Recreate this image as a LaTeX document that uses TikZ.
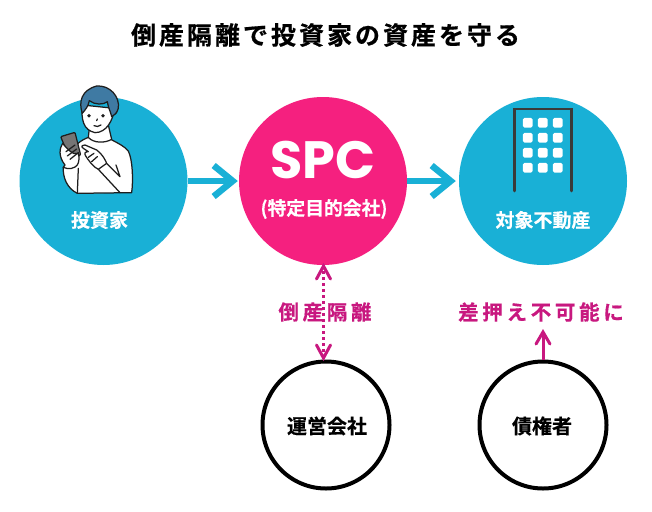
\documentclass[tikz,border=0pt]{standalone}
\usepackage{fontspec}
\setmainfont{Liberation Sans}
\newfontfamily\jpt[LetterSpace=12,FakeBold=0.6]{Noto Sans CJK JP Bold}
\newfontfamily\jpm[LetterSpace=18,FakeBold=0.5]{Noto Sans CJK JP Bold}
\newfontfamily\jpb[FakeBold=0.3]{Noto Sans CJK JP Bold}
\newfontfamily\lat{Poppins}
\usetikzlibrary{arrows.meta}
\definecolor{cy}{HTML}{19B0D6}
\definecolor{pk}{HTML}{F5207F}
\definecolor{mg}{HTML}{C8187F}
\definecolor{hairc}{HTML}{3F7AA3}
\definecolor{ink}{HTML}{1E1E1E}
\definecolor{gr}{HTML}{3A3A3A}
\tikzset{
 bluec/.style={circle,fill=cy,minimum size=168pt,inner sep=0pt},
 pinkc/.style={circle,fill=pk,minimum size=168pt,inner sep=0pt},
 ringc/.style={circle,draw=black,line width=4pt,fill=white,minimum size=127pt,inner sep=0pt},
 flow/.style={draw=cy,line width=6pt,-{Straight Barb[length=19pt,width=31pt,line width=6.5pt]}},
 mag/.style={draw=mg,line width=3pt},
 wlab/.style={text=white,font=\jpb\fontsize{19}{22}\selectfont,inner sep=0pt},
 klab/.style={text=black,font=\jpb\fontsize{20}{22}\selectfont,inner sep=0pt},
 mlab/.style={text=mg,font=\jpm\fontsize{20.5}{23}\selectfont,inner sep=0pt},
 lnk/.style={draw=ink,line width=1.25pt,line join=round,line cap=round},
 win/.style={fill=white,rounded corners=1.5pt}
}
\begin{document}
\begin{tikzpicture}[x=1pt,y=-1pt]
\useasboundingbox (0,0) rectangle (652,511);
\fill[white] (0,0) rectangle (652,511);
\node[inner sep=0pt,font=\jpt\fontsize{25}{28}\selectfont] (title) at (325.5,35) {倒産隔離で投資家の資産を守る};
\node[bluec] (inv) at (103.5,181) {};
\node[pinkc] (spc) at (323,181) {};
\node[bluec] (prop) at (543,181) {};
\node[ringc] (op) at (326,425) {};
\node[ringc] (cred) at (543,425) {};
% person
\begin{scope}[shift={(20,80)},x=0.3333pt,y=-0.3333pt]
\draw[lnk,fill=white] (205,172) .. controls (185,180) and (172,190) .. (165,200) -- (135,255) -- (130,262) .. controls (128,290) and (140,325) .. (172,340) -- (335,338) .. controls (340,300) and (338,240) .. (325,213) .. controls (315,200) and (295,190) .. (272,178) -- cycle;
\draw[lnk,fill=white] (208,145) -- (205,172) .. controls (220,190) and (255,190) .. (275,178) -- (265,135) -- cycle;
\draw[lnk,fill=white] (187,75) .. controls (183,120) and (190,150) .. (225,158) .. controls (260,158) and (280,120) .. (283,85) -- cycle;
\draw[lnk,fill=hairc] (187,100) .. controls (175,65) and (185,30) .. (230,18) .. controls (270,15) and (300,50) .. (295,85) .. controls (293,95) and (290,100) .. (275,110) .. controls (272,95) and (265,85) .. (262,65) .. controls (250,75) and (225,75) .. (208,62) .. controls (205,80) and (195,90) .. (187,100) -- cycle;
\fill[ink] (207,107) circle (1.9pt) (249,107) circle (1.9pt);
\draw[lnk] (222,137) .. controls (228,141) and (237,140) .. (243,135);
\draw[lnk] (232,117) -- (230,122);
\draw[lnk,fill=gr!70!white,rounded corners=1pt] (122,170) -- (165,157) -- (182,225) -- (165,232) -- (145,225) -- cycle;
\draw[lnk,fill=white] (128,190) .. controls (118,205) and (115,230) .. (135,255) -- (130,262) .. controls (145,270) and (165,265) .. (172,255) .. controls (178,245) and (178,232) .. (175,220) .. controls (160,228) and (140,205) .. (128,190) -- cycle;
\draw[lnk] (138,215) -- (165,195) (142,228) -- (170,207) (150,238) -- (175,218);
\draw[lnk,fill=white] (187,197) -- (195,195) -- (230,210) .. controls (250,225) and (258,245) .. (260,250) -- (235,268) .. controls (220,262) and (205,240) .. (197,228) .. controls (192,220) and (195,215) .. (205,215) -- (190,205) .. controls (185,203) and (185,198) .. (187,197) -- cycle;
\draw[lnk] (205,232) -- (222,220) (215,245) -- (232,230);
\draw[lnk] (260,250) -- (300,290) -- (288,255);
\draw[lnk] (235,268) -- (300,338);
\draw[lnk] (175,265) -- (172,340);
\end{scope}
% building
\draw[gr,line width=2.7pt,line cap=round,line join=miter] (514.5,191) -- (514.5,109) -- (571.5,109) -- (571.5,191);
\foreach \r/\y in {1/122.7,2/137.7,3/152.7,4/167.7}{
 \foreach \c/\x in {1/527.7,2/542.7,3/557.7}{
  \fill[win] (\x-4.8,\y-4.8) rectangle (\x+4.8,\y+4.8);
 }
}
% text
\node[wlab] (t1) at (99.5,220) {投資家};
\node[inner sep=0pt,text=white,font=\lat\bfseries\fontsize{52.5}{55}\selectfont] (t2) at (323,159.5) {SPC};
\node[wlab,font=\jpb\fontsize{18.8}{22}\selectfont] (t3) at (324,209) {(特定目的会社)};
\node[wlab] (t4) at (543,220) {対象不動産};
\node[klab] (t5) at (327,426) {運営会社};
\node[klab] (t6) at (542,426) {債権者};
% connectors
\draw[flow] (inv.east) -- ([xshift=-1pt]spc.west);
\draw[flow] (spc.east) -- ([xshift=-3pt]prop.west);
\draw[mag,line width=3pt,dash pattern=on 3pt off 3pt,shorten >=6pt,shorten <=6pt] (spc.south) -- (spc.south |- op.north);
\coordinate (arrT) at (323.5,266);
\coordinate (arrB) at (323.5,358);
\draw[mag,line cap=round,line join=miter] (316.5,279) -- (arrT) -- (330.5,279);
\draw[mag,line cap=round,line join=miter] (316.5,345) -- (arrB) -- (330.5,345);
\node[mlab] (l1) at (325,312) {倒産隔離};
\node[mlab] (l2) at (541,312) {差押え不可能に};
\draw[mag] (543,334) -- (cred.north);
\coordinate (arrC) at (543,332);
\draw[mag,line cap=round,line join=miter] (536,344) -- (arrC) -- (550,344);
\end{tikzpicture}
\end{document}
